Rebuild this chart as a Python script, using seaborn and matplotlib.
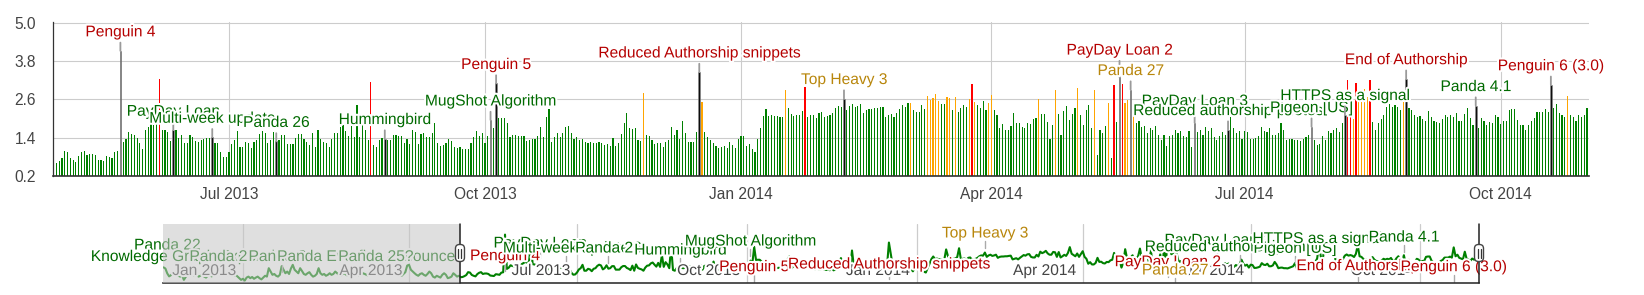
import numpy as np
import pandas as pd
import matplotlib
matplotlib.use("Agg")
import matplotlib.pyplot as plt
import matplotlib.dates as mdates
import matplotlib.patheffects as pe
from matplotlib.patches import FancyBboxPatch, Rectangle
from matplotlib.lines import Line2D
from matplotlib.transforms import IdentityTransform, blended_transform_factory
import seaborn as sns

sns.set_theme(style="white")
plt.rcParams["font.family"] = ["Liberation Sans", "DejaVu Sans"]

# ---------------- data (daily values) ----------------
apr_2013 = [0.58, 0.60]
may_2013 = [0.67, 0.76, 1.00, 0.97, 0.77, 0.70, 0.65, 0.84, 0.95, 1.00, 0.85, 0.89, 0.89, 0.85, 0.72, 0.70,
            0.68, 0.83, 0.81, 0.78, 0.96, 0.99, 4.12, 1.27, 1.37, 1.57, 1.51, 1.49, 1.40, 1.25, 1.04]
jun_2013 = [1.66, 1.75, 1.85, 1.79, 1.99, 3.23, 1.66, 1.64, 1.57, 1.31, 1.64, 1.65, 1.40, 1.49, 1.23, 1.25,
            1.49, 1.44, 1.31, 1.28, 1.33, 1.35, 1.39, 1.39, 1.42, 1.23, 1.23, 0.95, 0.79, 0.81]
jul_2013 = [0.97, 1.22, 1.33, 1.61, 1.12, 1.12, 1.28, 1.23, 1.08, 1.28, 1.33, 1.52, 1.62, 1.56, 1.23, 1.33,
            1.57, 1.29, 1.33, 1.50, 1.50, 1.21, 1.21, 1.21, 1.41, 1.51, 1.51, 1.35, 1.28, 1.17, 1.54]
aug_2013 = [1.12, 1.64, 1.35, 1.28, 1.23, 1.12, 1.38, 1.54, 1.56, 1.73, 1.80, 1.62, 1.46, 1.77, 1.44, 2.42,
            1.44, 1.83, 1.64, 1.33, 3.15, 1.18, 1.12, 1.33, 1.40, 1.38, 1.34, 1.33, 1.50, 1.50, 1.46]
sep_2013 = [1.46, 1.25, 1.36, 1.21, 1.66, 1.58, 1.21, 1.52, 1.54, 1.42, 1.42, 1.56, 1.88, 1.25, 1.16, 1.18,
            1.23, 1.35, 1.29, 1.12, 1.08, 1.12, 1.04, 1.04, 1.04, 1.23, 1.44, 1.61, 1.46, 1.54]
oct_2013 = [1.25, 1.46, 1.96, 1.71, 3.10, 2.01, 2.03, 2.03, 1.88, 1.44, 1.48, 1.49, 1.46, 1.46, 1.46, 1.30,
            1.33, 1.36, 1.36, 1.46, 1.75, 1.44, 2.04, 2.30, 1.28, 1.44, 1.54, 1.42, 1.56, 1.75, 1.77]
nov_2013 = [1.54, 1.38, 1.42, 1.33, 1.38, 1.28, 1.25, 1.28, 1.25, 1.25, 1.28, 1.23, 1.18, 1.21, 1.16, 1.39,
            1.15, 1.23, 1.52, 1.85, 2.17, 1.70, 1.68, 1.70, 1.33, 1.30, 2.80, 1.48, 1.46, 1.33]
dec_2013 = [1.21, 1.23, 1.25, 1.12, 1.27, 1.33, 1.75, 1.49, 1.64, 1.35, 1.92, 1.54, 1.28, 1.28, 1.28, 1.57,
            3.46, 2.53, 1.59, 1.44, 1.33, 1.25, 1.15, 1.09, 1.12, 1.16, 1.09, 1.28, 1.17, 1.07, 1.35]
jan_2014 = [1.46, 1.46, 1.15, 1.21, 1.04, 0.97, 1.35, 1.70, 2.08, 2.30, 2.08, 2.13, 2.08, 2.08, 2.04, 2.04,
            2.89, 2.32, 2.16, 2.08, 2.11, 2.13, 2.25, 2.99, 2.06, 2.11, 2.13, 2.01, 2.19, 2.22, 2.04]
feb_2014 = [2.08, 2.11, 2.19, 2.32, 2.39, 2.37, 2.63, 2.27, 2.39, 2.45, 2.35, 2.39, 2.45, 2.19, 2.27, 2.30,
            2.30, 2.32, 2.32, 2.35, 2.37, 2.06, 2.11, 2.16, 2.06, 2.19, 2.30, 2.42]
mar_2014 = [2.37, 2.48, 2.50, 2.27, 2.22, 2.22, 2.44, 2.30, 2.70, 2.58, 2.65, 2.77, 2.56, 2.45, 2.45, 2.68,
            2.65, 2.27, 2.67, 2.22, 2.32, 2.44, 2.35, 2.60, 3.08, 2.53, 2.42, 2.32, 2.55, 2.27, 2.50]
apr_2014 = [2.74, 2.27, 2.11, 1.70, 1.83, 1.64, 1.64, 1.77, 2.19, 1.85, 1.87, 1.75, 1.72, 1.85, 1.83, 1.98,
            2.03, 2.60, 2.16, 2.16, 1.90, 1.38, 1.80, 2.91, 2.16, 1.49, 2.24, 2.40, 1.96, 2.16]
may_2014 = [2.32, 2.96, 2.13, 1.80, 2.27, 2.42, 1.70, 2.91, 0.85, 1.66, 1.56, 1.78, 2.49, 0.78, 3.04, 1.90,
            3.30, 3.08, 2.49, 2.58, 2.91, 2.49, 1.85, 1.92, 1.75, 1.78, 1.54, 1.70, 1.64, 1.76, 1.49]
jun_2014 = [1.33, 1.49, 1.14, 1.45, 1.50, 1.64, 1.54, 1.60, 1.47, 1.42, 1.60, 1.12, 1.87, 1.57, 1.64, 1.49,
            1.75, 1.62, 1.72, 1.43, 1.33, 1.45, 1.59, 1.49, 1.66, 2.04, 1.70, 1.54, 1.62, 1.38]
jul_2014 = [1.62, 1.59, 1.35, 1.36, 1.40, 1.46, 1.75, 1.62, 1.59, 1.70, 1.49, 1.49, 1.56, 1.85, 1.64, 1.33,
            1.37, 1.38, 1.33, 1.33, 1.31, 1.37, 1.43, 1.49, 1.75, 1.33, 1.17, 1.20, 1.45, 1.33, 1.62]
aug_2014 = [1.54, 1.64, 1.70, 1.59, 1.85, 2.13, 3.22, 2.30, 2.00, 3.12, 2.53, 2.53, 2.94, 2.68, 3.20, 1.90,
            1.64, 1.85, 2.00, 2.10, 2.37, 2.47, 2.37, 2.42, 2.37, 2.26, 2.52, 3.25, 2.32, 2.27, 2.11]
sep_2014 = [2.04, 2.08, 1.98, 1.93, 2.25, 2.04, 1.93, 1.90, 1.85, 1.98, 2.11, 2.04, 2.11, 2.06, 2.18, 1.93,
            1.93, 2.16, 2.32, 2.01, 1.80, 2.41, 1.70, 2.01, 1.93, 1.80, 1.90, 1.85, 2.11, 2.04]
oct_2014 = [1.83, 1.93, 1.93, 2.27, 2.30, 2.30, 1.95, 1.80, 1.80, 1.64, 1.80, 1.93, 2.01, 2.21, 2.21, 2.21,
            2.29, 2.21, 3.06, 2.32, 2.45, 2.19, 2.13, 2.06, 2.70, 2.11, 2.04, 1.93, 2.13, 2.04, 2.11]
nov_2014 = [2.32]
main_start = "2013-04-29"

# earlier part of the series, only visible in the range selector (2012-11-19 .. 2013-04-28)
nav_early_values = [
    1.40, 1.30, 0.90, 0.65, 0.75, 0.91, 0.85, 0.78, 0.70, 0.63, 0.75,
    0.36, 0.60, 0.78, 0.91, 0.85, 0.78, 0.70, 0.75, 0.63, 0.70,
    0.78, 0.63, 0.55, 0.70, 0.78, 0.65, 0.72, 0.85, 0.91, 0.78,
    0.70, 0.85, 0.80, 0.72, 0.78, 0.85, 0.80, 0.70, 0.78, 0.65,
    0.50, 0.36, 0.45, 0.30, 0.55, 0.63, 0.50, 0.60, 0.45, 0.55,
    0.63, 0.50, 0.40, 0.55, 0.70, 0.63, 1.33, 1.05, 0.78, 0.85,
    0.70, 0.63, 0.78, 1.50, 1.20, 0.91, 1.05, 0.85, 1.30, 1.61,
    1.20, 1.05, 0.91, 1.33, 1.10, 0.85, 0.78, 0.91, 1.00, 0.78,
    0.63, 0.70, 0.85, 1.33, 0.91, 0.78, 0.85, 0.70, 0.78, 0.91,
    0.78, 0.85, 1.05, 0.91, 0.78, 0.70, 0.85, 0.91, 0.78, 0.70,
    0.85, 0.78, 0.91, 1.33, 0.85, 0.70, 0.78, 0.91, 0.85, 0.78,
    0.70, 0.85, 0.91, 1.33, 1.00, 0.91, 0.78, 1.05, 1.15, 0.91,
    0.91, 1.00, 0.91, 0.91, 0.85, 0.78, 0.91, 0.78, 0.70, 0.85,
    1.00, 1.55, 1.61, 1.20, 1.05, 0.91, 0.78, 0.70, 0.85, 0.91,
    0.78, 0.70, 0.85, 1.05, 0.91, 0.63, 0.55, 0.70, 0.63, 0.55,
    0.78, 0.91, 0.78, 0.50, 0.55, 0.63, 0.91, 0.78, 0.63, 0.70]
nav_early_start = "2012-11-19"

# annotated events (drawn as dark bars with labels)
ann_dates = ["2013-05-23", "2013-06-11", "2013-06-25", "2013-07-18", "2013-08-26", "2013-10-03",
             "2013-10-05", "2013-12-17", "2014-02-07", "2014-05-17", "2014-05-21", "2014-06-13",
             "2014-06-25", "2014-07-25", "2014-08-06", "2014-08-28", "2014-09-22", "2014-10-19"]
ann_labels = ["Penguin 4", "PayDay Loan", "Multi-week update", "Panda 26", "Hummingbird",
              "MugShot Algorithm", "Penguin 5", "Reduced Authorship snippets", "Top Heavy 3",
              "PayDay Loan 2", "Panda 27", "PayDay Loan 3", "Reduced authorship photos",
              "Pigeon [US]", "HTTPS as a signal", "End of Authorship", "Panda 4.1", "Penguin 6 (3.0)"]
ann_kinds = ["red", "green", "green", "green", "green", "green", "red", "red", "orange",
             "red", "orange", "green", "green", "green", "green", "red", "green", "red"]

# older events only in the range selector
early_ann_dates = ["2012-11-21", "2012-12-04", "2012-12-21", "2013-01-22", "2013-03-11", "2013-03-14"]
early_ann_labels = ["Panda 22", "Knowledge Graph Expansion", "Panda 23", "Panda 24",
                    "Panda Everflux announced", "Panda 25?"]

red_days = ["2013-06-06", "2013-08-21", "2014-01-24", "2014-03-25", "2014-05-15", "2014-05-18",
            "2014-08-07", "2014-08-08", "2014-08-10", "2014-08-15"]
orange_days = ["2013-11-27", "2013-12-18", "2014-01-17", "2014-03-03", "2014-03-09", "2014-03-10",
               "2014-03-11", "2014-03-12", "2014-03-13", "2014-03-16", "2014-03-17", "2014-03-19",
               "2014-03-24", "2014-03-26", "2014-03-31", "2014-04-01", "2014-04-18", "2014-04-24",
               "2014-05-02", "2014-05-08", "2014-05-13", "2014-05-19", "2014-05-20", "2014-05-22",
               "2014-08-09", "2014-08-11", "2014-08-12", "2014-08-13", "2014-08-14", "2014-08-27",
               "2014-10-25"]

y_ticks = [0.2, 1.4, 2.6, 3.8, 5.0]
main_tick_dates = ["2013-07-01", "2013-10-01", "2014-01-01", "2014-04-01", "2014-07-01", "2014-10-01"]
main_tick_labels = ["Jul 2013", "Oct 2013", "Jan 2014", "Apr 2014", "Jul 2014", "Oct 2014"]
nav_tick_dates = ["2013-01-01", "2013-04-01", "2013-07-01", "2013-10-01",
                  "2014-01-01", "2014-04-01", "2014-07-01", "2014-10-01"]
nav_tick_labels = ["Jan 2013", "Apr 2013", "Jul 2013", "Oct 2013",
                   "Jan 2014", "Apr 2014", "Jul 2014", "Oct 2014"]

# ---------------- styling / layout (not data) ----------------
W, H = 1644, 295
FS = 11.2
BAR_COL = {"green": "#008000", "orange": "#ffa500", "red": "#ff0000", "event": "#0d0d0d"}
LAB_COL = {"green": "#006a00", "red": "#b50000", "orange": "#b8860b"}
halo = [pe.withStroke(linewidth=3, foreground="white")]
ann_extra_px = [0, 0, 0, 0, 0, 0, 0, 0, 0, 8, 0, 3, 0, 0, 0, 0, 0, 0]
early_nav_y_px = [245, 256.5, 256.5, 256.5, 256.5, 256.5]
nav_y_px = [255.7, 243, 248, 248, 250, 241, 266.7, 264, 233, 261.7, 270, 240,
            246.7, 248.3, 238.5, 265.7, 237, 266.7]
NAV_TOP, NAV_BOT = 224, 283

# ---------------- assemble ----------------
values = np.array(apr_2013 + may_2013 + jun_2013 + jul_2013 + aug_2013 + sep_2013 + oct_2013 +
                  nov_2013 + dec_2013 + jan_2014 + feb_2014 + mar_2014 + apr_2014 + may_2014 +
                  jun_2014 + jul_2014 + aug_2014 + sep_2014 + oct_2014 + nov_2014)
dates = pd.date_range(main_start, periods=len(values), freq="D")
dnum = mdates.date2num(dates.to_pydatetime())

kind = pd.Series("green", index=dates)
kind[pd.to_datetime(orange_days)] = "orange"
kind[pd.to_datetime(red_days)] = "red"
df = pd.DataFrame({"x": dnum, "value": values, "kind": kind.values})
df_bars = df.copy()
ann_ts = pd.to_datetime(ann_dates)
is_event = dates.isin(ann_ts)
df_bars.loc[is_event, "value"] = 0.0
df_evt = df[is_event].copy()

early_dates = pd.date_range(nav_early_start, periods=len(nav_early_values), freq="D")
nav_x = np.concatenate([mdates.date2num(early_dates.to_pydatetime()), dnum])
nav_v = np.concatenate([np.array(nav_early_values), values])

fig = plt.figure(figsize=(W / 100, H / 100), dpi=100)
fig.patch.set_facecolor("white")

L, R, T, B = 52.5, 1589, 22.3, 176.3
ax = fig.add_axes([L / W, 1 - B / H, (R - L) / W, (B - T) / H])
nav = fig.add_axes([163 / W, 1 - NAV_BOT / H, (1479 - 163) / W, (NAV_BOT - NAV_TOP) / H])

x_left = dnum[0] - 0.4
x_right = dnum[-1] + 0.7

# main bars
sns.barplot(data=df_bars, x="x", y="value", hue="kind", palette=BAR_COL,
            hue_order=["green", "orange", "red"], native_scale=True, dodge=False,
            width=0.42, errorbar=None, legend=False, saturation=1, linewidth=0, ax=ax, zorder=2)
evt_spacing = np.min(np.diff(np.sort(df_evt["x"].values)))
sns.barplot(data=df_evt, x="x", y="value", color=BAR_COL["event"], native_scale=True,
            width=0.6 / evt_spacing, errorbar=None, saturation=1, linewidth=0.45,
            edgecolor="#8a8a8a", ax=ax, zorder=3)

ax.set_xlim(x_left, x_right)
ax.set_ylim(0.2, 5.012)
ax.set_yticks(y_ticks)
ax.set_yticklabels([f"{v:.1f}" for v in y_ticks])
ax.set_xticks(mdates.date2num(pd.to_datetime(main_tick_dates).to_pydatetime()))
ax.set_xticklabels(main_tick_labels)
ax.tick_params(axis="both", length=0, labelsize=FS, colors="#444444")
ax.tick_params(axis="y", pad=12)
ax.tick_params(axis="x", pad=8)
ax.grid(True, color="#cccccc", linewidth=0.8, zorder=0)
ax.set_axisbelow(True)
ax.set_xlabel("")
ax.set_ylabel("")
for s in ["top", "right"]:
    ax.spines[s].set_visible(False)
ax.spines["left"].set_color("#333333")
ax.spines["left"].set_linewidth(0.9)
ax.spines["bottom"].set_color("#333333")
ax.spines["bottom"].set_linewidth(1.2)
ax.spines["left"].set_zorder(4)
ax.spines["bottom"].set_zorder(4)

val_by_date = pd.Series(values, index=dates)
for d, lab, k, extra in zip(ann_ts, ann_labels, ann_kinds, ann_extra_px):
    xn = mdates.date2num(d.to_pydatetime())
    yv = val_by_date[d]
    ax.annotate(lab, xy=(xn, yv), xytext=(0, (19 + extra) * 0.72), textcoords="offset points",
                ha="center", va="center", fontsize=FS, color=LAB_COL[k], zorder=6,
                path_effects=halo, annotation_clip=False,
                arrowprops=dict(arrowstyle="-", color="#9a9a9a", lw=1.3, shrinkA=0, shrinkB=0,
                                relpos=(0.5, 0.0)))

# ---------------- range selector ----------------
nav_left = mdates.date2num(early_dates[0].to_pydatetime()) - 0.3
nav.set_xlim(nav_left, x_right)
nav.set_ylim(0.1, 5.0)
for td in pd.to_datetime(nav_tick_dates):
    nav.axvline(mdates.date2num(td.to_pydatetime()), color="#cccccc", lw=0.9, zorder=0)
sns.lineplot(x=nav_x, y=nav_v, color="#008000", linewidth=1.5, estimator=None, sort=False,
             ax=nav, zorder=2)
nav.set_xticks([])
nav.set_yticks([])
nav.set_xlabel("")
nav.set_ylabel("")
for s in ["top", "right", "left"]:
    nav.spines[s].set_visible(False)
nav.spines["bottom"].set_color("#333333")
nav.spines["bottom"].set_linewidth(1.2)
nav.patch.set_alpha(0)

trn = blended_transform_factory(nav.transData, nav.transAxes)
navh = NAV_BOT - NAV_TOP
for td, lab in zip(pd.to_datetime(nav_tick_dates), nav_tick_labels):
    nav.annotate(lab, xy=(mdates.date2num(td.to_pydatetime()), (NAV_BOT - 270.5) / navh),
                 xycoords=trn, xytext=(-5, 0), textcoords="offset points", ha="right",
                 va="center", fontsize=FS, color="#444444", path_effects=halo, zorder=3)

all_nav = (list(zip(pd.to_datetime(early_ann_dates), early_ann_labels, ["green"] * len(early_ann_labels), early_nav_y_px))
           + list(zip(ann_ts, ann_labels, ann_kinds, nav_y_px)))
for d, lab, k, ypx in all_nav:
    xn = mdates.date2num(d.to_pydatetime())
    nav.plot([xn, xn], [(NAV_BOT - (ypx + 8)) / navh, (NAV_BOT - (ypx + 15)) / navh],
             transform=trn, color="#aaaaaa", lw=1.0, zorder=2.5)
    nav.text(xn, (NAV_BOT - ypx) / navh, lab, transform=trn, ha="center", va="center",
             fontsize=FS, color=LAB_COL[k], path_effects=halo, zorder=3, clip_on=False)

# shaded (unselected) part of the selector
nav.add_patch(Rectangle((nav_left, 0), x_left - nav_left, 1, transform=trn, facecolor="#c6c6c6",
                        alpha=0.55, lw=0, zorder=4))
for hx in [x_left, x_right]:
    nav.plot([hx, hx], [0, 1], transform=trn, color="#222222", lw=1.1, zorder=5, clip_on=False)

# handles (drawn in pixel space)
fig.canvas.draw()
for hx in [x_left, x_right]:
    px = nav.transData.transform((hx, 1.0))[0]
    py = H - 253
    fig.add_artist(FancyBboxPatch((px - 4.5, py - 8.5), 9, 17,
                                  boxstyle="round,pad=0,rounding_size=4",
                                  transform=IdentityTransform(), facecolor="white",
                                  edgecolor="#444444", lw=1.0, zorder=10))
    for dx in (-1.5, 1.5):
        fig.add_artist(Line2D([px + dx, px + dx], [py - 4.5, py + 4.5],
                              transform=IdentityTransform(), color="#333333", lw=0.9, zorder=11))

fig.savefig("out.png", dpi=100, facecolor="white")
